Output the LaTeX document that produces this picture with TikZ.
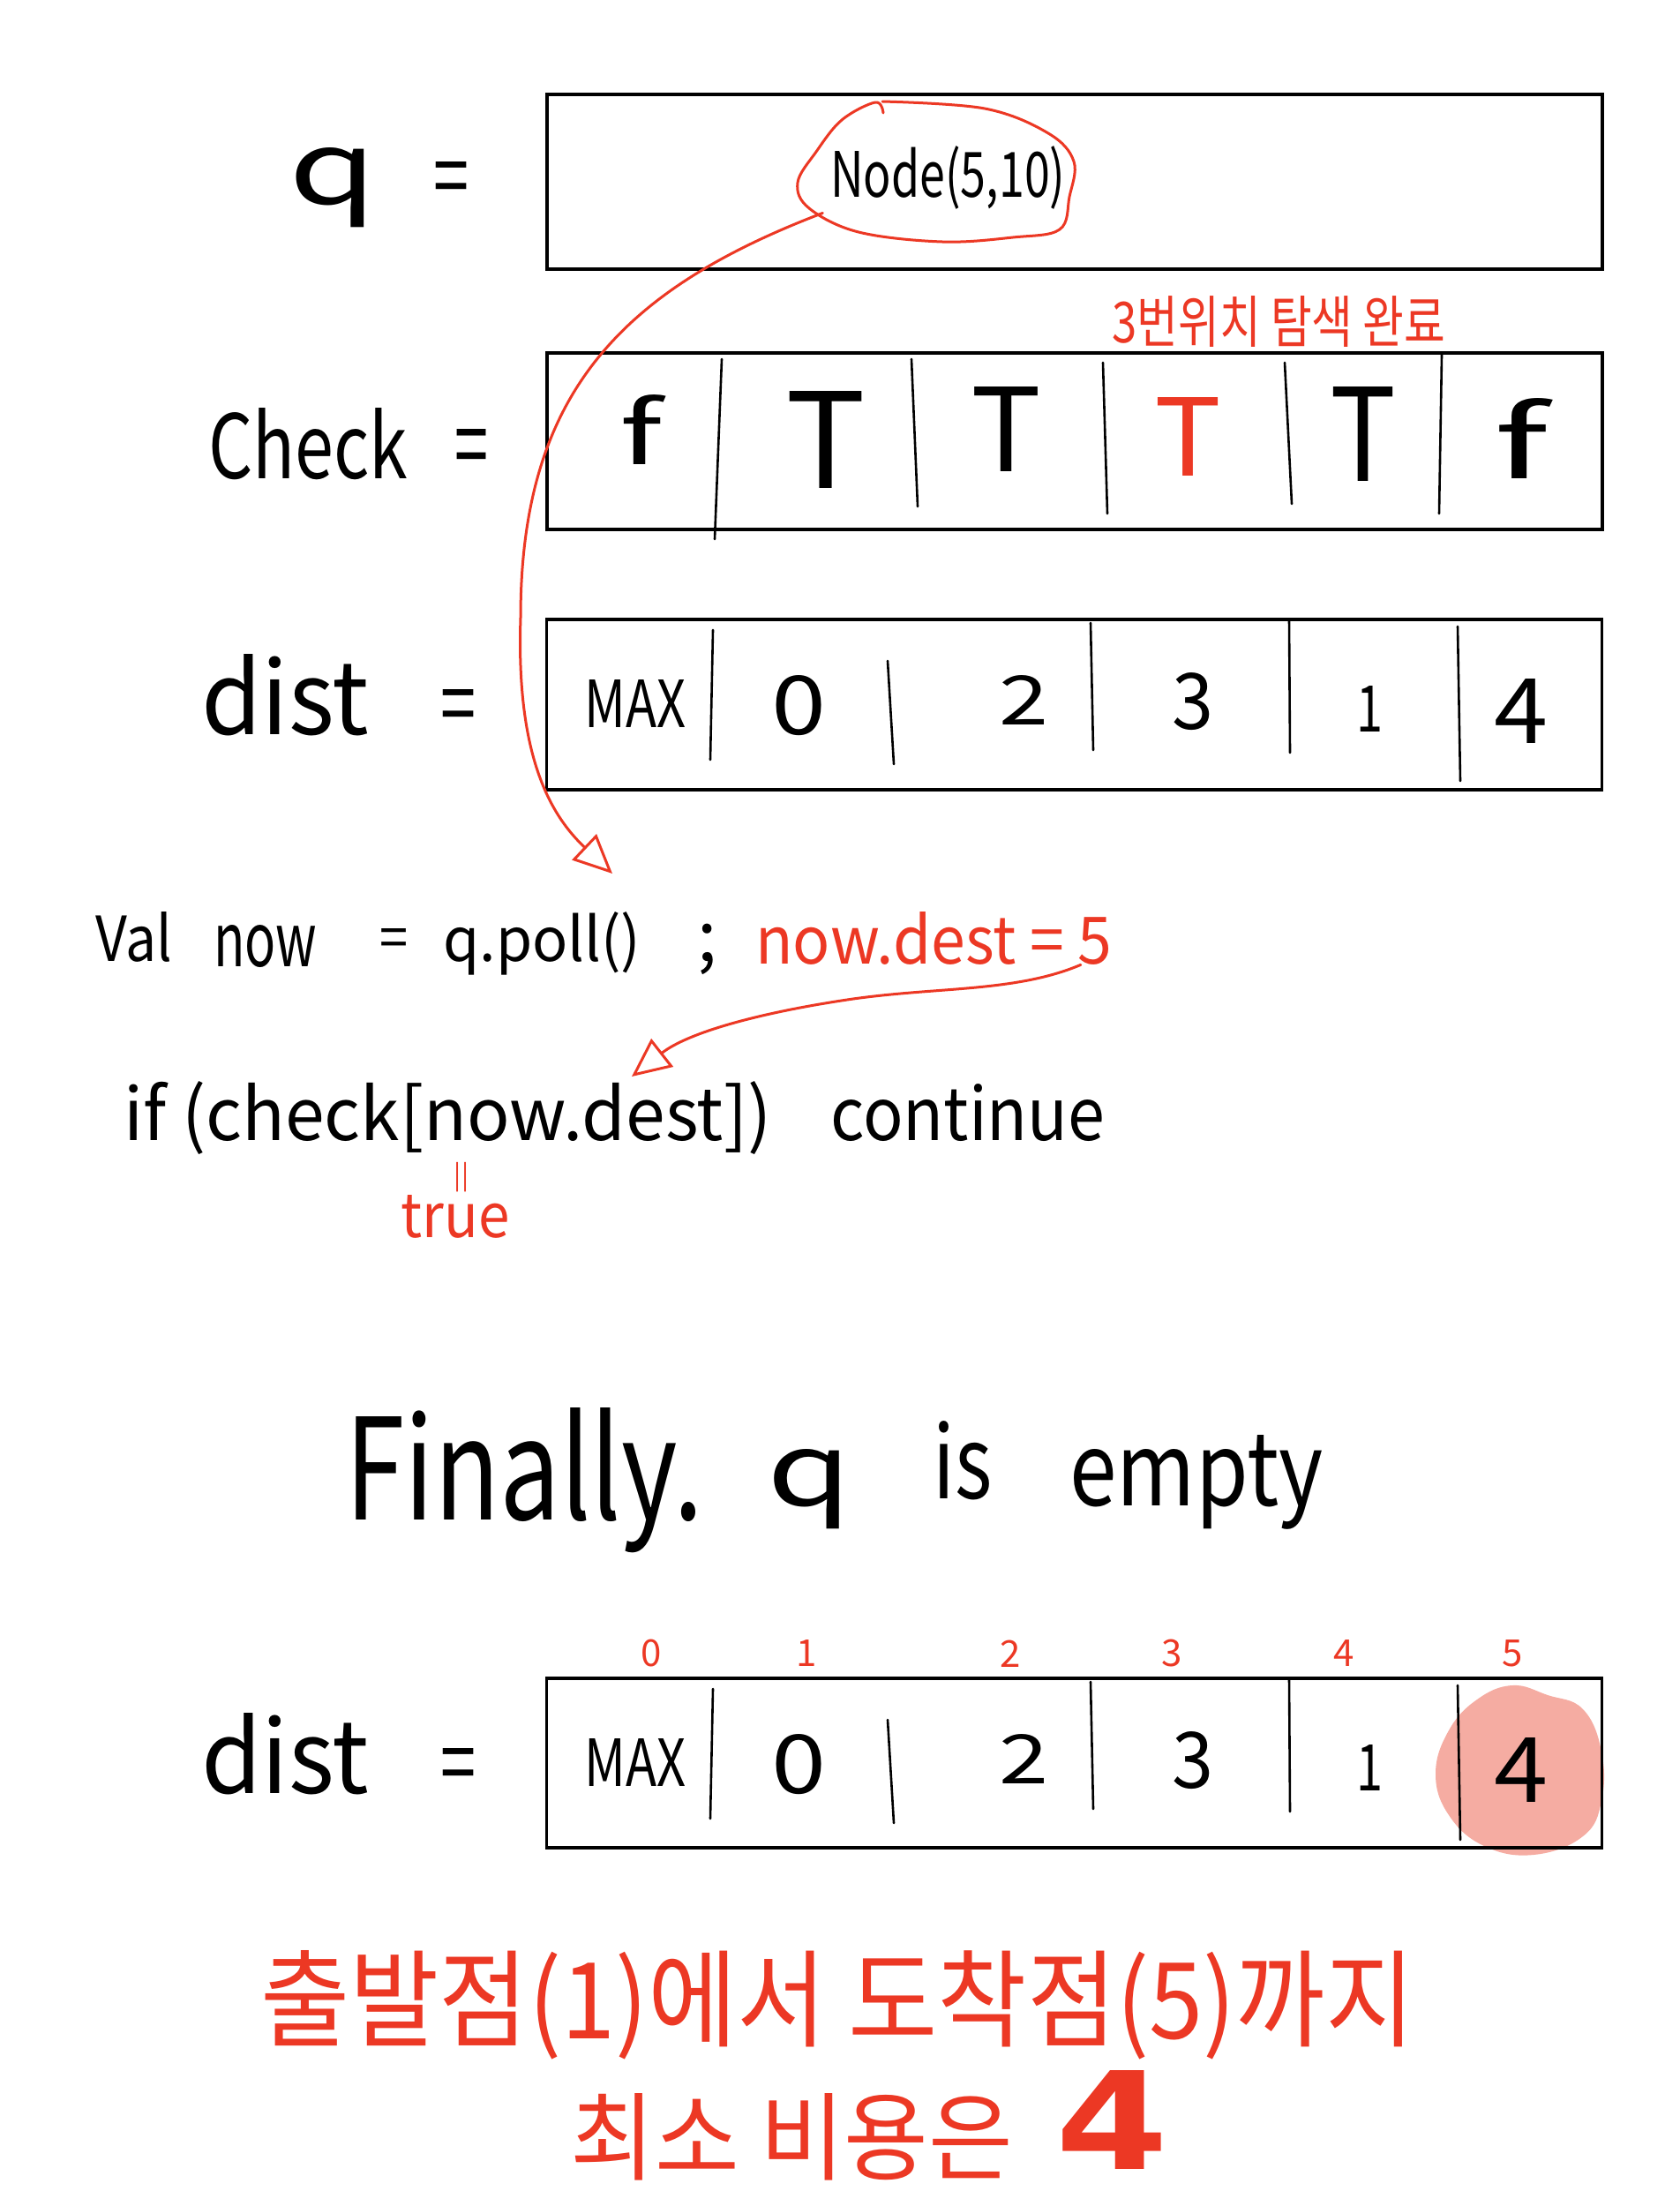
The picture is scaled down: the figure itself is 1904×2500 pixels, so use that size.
\documentclass[tikz,border=0pt]{standalone}
\usepackage{fontspec}
\setmainfont{Noto Sans CJK KR}
\newfontfamily\boldfour{DejaVu Sans}
\usetikzlibrary{arrows.meta,shapes.geometric}
\definecolor{hred}{RGB}{236,56,36}
\definecolor{hpink}{RGB}{245,172,162}
\newlength\pxu \setlength\pxu{0.5pt}
\newcommand\fitt[3]{\resizebox{#1\pxu}{#2\pxu}{#3}}
\begin{document}
\begin{tikzpicture}[x=0.5pt,y=-0.5pt,
 box/.style={draw, line width=1.8pt, inner sep=0, minimum width=598pt},
 sep/.style={line width=1.3pt, line cap=round},
 txt/.style={inner sep=0, anchor=base west, font=\fontsize{40}{48}\selectfont},
 rtxt/.style={txt, text=hred},
 idx/.style={inner sep=0, anchor=center, text=hred, font=\fontsize{21}{24}\selectfont},
 redline/.style={draw=hred, line width=1.5pt, line cap=round, line join=round},
 headtip/.style={-{Triangle[open, length=22pt, width=20pt, line width=1.5pt]}}
]
\useasboundingbox (0,0) rectangle (1904,2500);
\fill[white] (0,0) rectangle (1904,2500);

% ---------- q row ----------
\node[box, minimum height=99pt] (qbox) at (1218,206) {};
\node[txt] (qlab) at (327,231) {\fitt{100}{64}{q}};
\node[txt] (qeq) at (491,236) {\fitt{40}{53}{=}};
\node[txt] (nodetxt) at (941,223) {\fitt{266}{58}{Node(5,10)}};
\node[ellipse, minimum width=156pt, minimum height=80pt, inner sep=0] (circ) at (1060,195) {};
\draw[redline] plot[smooth, tension=0.6] coordinates {(1000,115) (1116,123) (1188,151) (1217,183) (1212,223) (1201,260) (1148,269) (1068,274) (973,263) (917,236) (904,207) (925,172) (954,136) (992,116) (1001,128)};

% ---------- check row ----------
\node[rtxt] (note3) at (1260,388) {\fitt{378}{53}{3번위치 탐색 완료}};
\node[box, minimum height=100pt] (check) at (1218,500) {};
\node[txt] (checklab) at (236,542) {\fitt{226}{80}{Check}};
\node[txt] (checkeq) at (515,544) {\fitt{38}{58}{=}};
\node[txt] (c0) at (702,526) {\fitt{48}{79}{f}};
\node[txt] (c1) at (890,553) {\fitt{91}{110}{T}};
\node[txt] (c2) at (1100,534) {\fitt{80}{96}{T}};
\node[rtxt] (c3) at (1308,539) {\fitt{76}{89}{T}};
\node[txt] (c4) at (1507,545) {\fitt{75}{107}{T}};
\node[txt] (c5) at (1693,542) {\fitt{61}{91}{f}};
\draw[sep] (818,407) -- (810,611);
\draw[sep] (1033,407) -- (1040,574);
\draw[sep] (1250,411) -- (1255,582);
\draw[sep] (1456,411) -- (1464,571);
\draw[sep] (1634,402) -- (1631,582);

% ---------- dist row ----------
\node[box, minimum height=96.5pt] (dist) at (1217.5,798.5) {};
\node[txt] (distlab) at (228,832) {\fitt{190}{91}{dist}};
\node[txt] (disteq) at (499,834) {\fitt{40}{53}{=}};
\node[txt] (d0) at (662,824) {\fitt{115}{54}{MAX}};
\node[txt] (d1) at (874,832) {\fitt{62}{67}{0}};
\node[txt] (d2) at (1132,821) {\fitt{56}{56}{2}};
\node[txt] (d3) at (1328,826) {\fitt{47}{64}{3}};
\node[txt] (d4) at (1537,829) {\fitt{30}{52}{1}};
\node[txt] (d5) at (1693,842) {\fitt{61}{73}{4}};
\draw[sep] (808,714) -- (805,861);
\draw[sep] (1006,749) -- (1013,866);
\draw[sep] (1236,706) -- (1239,850);
\draw[sep] (1461,702) -- (1462,853);
\draw[sep] (1652,710) -- (1655,885);

% ---------- code lines ----------
\node[txt] (val) at (108,1089) {\fitt{87}{56}{Val}};
\node[txt] (now) at (242,1095) {\fitt{117}{47}{now}};
\node[txt] (valeq) at (430,1085) {\fitt{32}{33}{=}};
\node[txt] (qpoll) at (502,1089) {\fitt{224}{56}{q.poll()}};
\node[txt] (semi) at (790,1089) {;};
\node[rtxt] (nd) at (856,1092) {\fitt{404}{59}{now.dest = 5}};
\coordinate (tip1) at (694,990);

\node[txt] (iftxt) at (140,1292) {\fitt{734}{67}{if (check[now.dest])}};
\node[txt] (cont) at (941,1292) {\fitt{311}{64}{continue}};
\coordinate (tip2) at (716,1220);
\node[idx, font=\fontsize{15}{18}\selectfont] (bars) at (523,1334) {||};
\node[rtxt] (truetxt) at (454,1402) {\fitt{123}{48}{true}};

\draw[redline, headtip] (circ.200) .. controls (700,330) and (590,450) .. (590,700) .. controls (585,850) and (620,920) .. (tip1);
\draw[redline, headtip] ([xshift=-18pt]nd.south east) .. controls (1150,1125) and (1060,1118) .. (960,1133) .. controls (860,1148) and (780,1170) .. (tip2);

% ---------- Finally ----------
\node[txt] (fin) at (391,1722) {\fitt{406}{127}{Finally.}};
\node[txt] (finq) at (869,1706) {\fitt{96}{64}{q}};
\node[txt] (finis) at (1057,1698) {\fitt{67}{88}{is}};
\node[txt] (finempty) at (1212,1706) {\fitt{287}{80}{empty}};

% ---------- final dist row ----------
\node[idx] (i0) at (738,1874) {0};
\node[idx] (i1) at (914,1874) {1};
\node[idx] (i2) at (1145,1874) {2};
\node[idx] (i3) at (1328,1874) {3};
\node[idx] (i4) at (1523,1874) {4};
\node[idx] (i5) at (1714,1874) {5};
\fill[hpink] plot[smooth cycle, tension=0.7] coordinates {(1714,1910) (1754,1921) (1794,1937) (1815,1985) (1815,2041) (1794,2081) (1738,2102) (1682,2092) (1642,2057) (1627,2010) (1642,1961) (1674,1926)};
\node[box, minimum height=96pt] (dist2) at (1217.5,1998) {};
\node[txt] (dist2lab) at (228,2032) {\fitt{190}{91}{dist}};
\node[txt] (dist2eq) at (499,2034) {\fitt{40}{53}{=}};
\node[txt] (e0) at (662,2024) {\fitt{115}{54}{MAX}};
\node[txt] (e1) at (874,2032) {\fitt{62}{67}{0}};
\node[txt] (e2) at (1132,2021) {\fitt{56}{56}{2}};
\node[txt] (e3) at (1328,2026) {\fitt{47}{64}{3}};
\node[txt] (e4) at (1537,2029) {\fitt{30}{52}{1}};
\node[txt] (e5) at (1693,2042) {\fitt{61}{73}{4}};
\draw[sep] (808,1914) -- (805,2061);
\draw[sep] (1006,1949) -- (1013,2066);
\draw[sep] (1236,1906) -- (1239,2050);
\draw[sep] (1461,1902) -- (1462,2053);
\draw[sep] (1652,1910) -- (1655,2085);

% ---------- conclusion ----------
\node[rtxt] (concl1) at (295,2310) {\fitt{1308}{100}{출발점(1)에서 도착점(5)까지}};
\node[rtxt] (concl2) at (646,2462) {\fitt{502}{90}{최소 비용은}};
\node[rtxt] (four) at (1196,2458) {\fitt{128}{112}{\boldfour\bfseries 4}};
\end{tikzpicture}
\end{document}
